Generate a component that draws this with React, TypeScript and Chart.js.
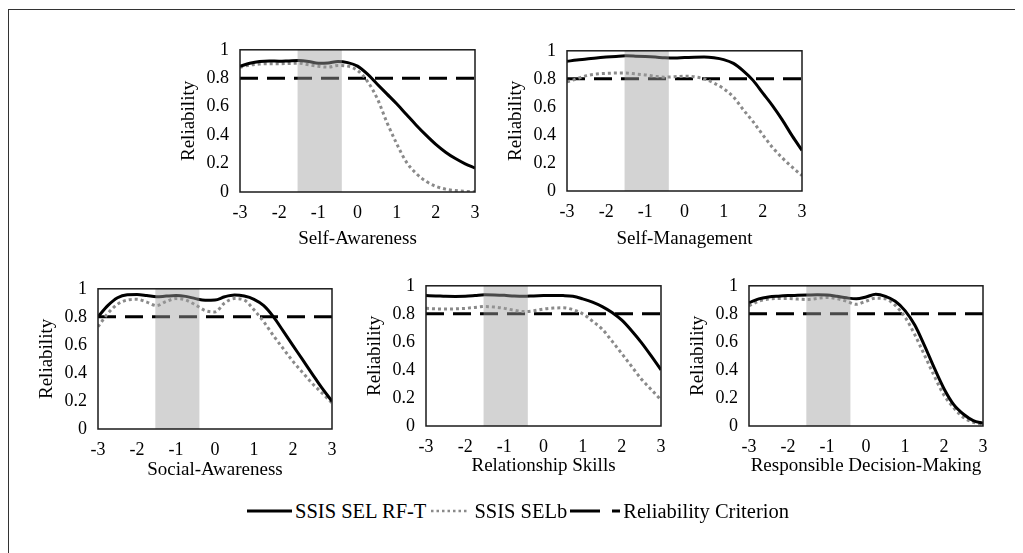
import React, { useEffect, useRef } from "react";
import { Chart, registerables } from "chart.js";

Chart.register(...registerables);

const FONT = "'Liberation Serif', 'Times New Roman', serif";
Chart.defaults.font.family = FONT;
Chart.defaults.color = "#000";

// ---------------- data ----------------
const THETA = [-3, -2.75, -2.5, -2.25, -2, -1.75, -1.5, -1.25, -1, -0.75, -0.5, -0.25, 0, 0.25, 0.5, 0.75, 1, 1.25, 1.5, 1.75, 2, 2.25, 2.5, 2.75, 3];
const X_TICK_MIN = -3;
const X_TICK_MAX = 3;
const CRITERION = 0.8;
const BAND = [-1.53, -0.4];

const SELF_AWARENESS_RFT = [0.884, 0.905, 0.918, 0.921, 0.92, 0.922, 0.924, 0.918, 0.906, 0.908, 0.918, 0.91, 0.885, 0.83, 0.76, 0.69, 0.62, 0.545, 0.47, 0.4, 0.335, 0.28, 0.235, 0.198, 0.168];
const SELF_AWARENESS_SELB = [0.877, 0.893, 0.9, 0.902, 0.902, 0.904, 0.906, 0.895, 0.884, 0.878, 0.89, 0.885, 0.855, 0.78, 0.66, 0.49, 0.34, 0.21, 0.13, 0.075, 0.04, 0.02, 0.01, 0.004, 0.002];

const SELF_MANAGEMENT_RFT = [0.925, 0.934, 0.941, 0.949, 0.955, 0.96, 0.964, 0.962, 0.959, 0.955, 0.95, 0.948, 0.952, 0.954, 0.955, 0.95, 0.937, 0.91, 0.857, 0.789, 0.698, 0.608, 0.506, 0.393, 0.29];
const SELF_MANAGEMENT_SELB = [0.778, 0.8, 0.823, 0.834, 0.839, 0.841, 0.841, 0.835, 0.828, 0.818, 0.812, 0.815, 0.819, 0.815, 0.8, 0.77, 0.73, 0.67, 0.58, 0.495, 0.4, 0.31, 0.235, 0.17, 0.11];

const SOCIAL_AWARENESS_RFT = [0.8, 0.88, 0.936, 0.957, 0.959, 0.952, 0.943, 0.948, 0.952, 0.946, 0.93, 0.918, 0.92, 0.943, 0.955, 0.948, 0.925, 0.88, 0.8, 0.698, 0.595, 0.493, 0.39, 0.289, 0.198];
const SOCIAL_AWARENESS_SELB = [0.73, 0.823, 0.89, 0.92, 0.925, 0.905, 0.88, 0.91, 0.93, 0.92, 0.885, 0.845, 0.835, 0.9, 0.93, 0.92, 0.85, 0.765, 0.665, 0.573, 0.482, 0.402, 0.323, 0.255, 0.186];

const RELATIONSHIP_RFT = [0.93, 0.928, 0.925, 0.924, 0.925, 0.93, 0.936, 0.935, 0.932, 0.927, 0.925, 0.928, 0.93, 0.931, 0.93, 0.925, 0.907, 0.884, 0.852, 0.81, 0.755, 0.68, 0.595, 0.5, 0.4];
const RELATIONSHIP_SELB = [0.839, 0.836, 0.834, 0.836, 0.839, 0.846, 0.852, 0.848, 0.839, 0.826, 0.816, 0.822, 0.834, 0.841, 0.843, 0.83, 0.8, 0.748, 0.69, 0.605, 0.516, 0.425, 0.334, 0.26, 0.186];

const DECISION_RFT = [0.88, 0.907, 0.92, 0.926, 0.93, 0.932, 0.934, 0.936, 0.934, 0.925, 0.914, 0.907, 0.92, 0.94, 0.925, 0.89, 0.823, 0.72, 0.573, 0.414, 0.266, 0.152, 0.084, 0.039, 0.02];
const DECISION_SELB = [0.857, 0.89, 0.905, 0.91, 0.91, 0.905, 0.902, 0.91, 0.916, 0.908, 0.89, 0.868, 0.89, 0.912, 0.907, 0.86, 0.777, 0.652, 0.505, 0.357, 0.22, 0.13, 0.061, 0.027, 0.011];

const Y_TITLE = "Reliability";
const SERIES_NAMES = ["SSIS SEL RF-T", "SSIS SELb", "Reliability Criterion"];

type PanelSpec = {
  title: string;
  rft: number[];
  selb: number[];
  left: number; // plot area left (container coords)
  top: number; // plot area top
  w: number;
  h: number;
  titleOff: number; // x-title center offset below plot bottom
};

const PANELS: PanelSpec[] = [
  { title: "Self-Awareness", rft: SELF_AWARENESS_RFT, selb: SELF_AWARENESS_SELB, left: 232, top: 35, w: 235, h: 149, titleOff: 47 },
  { title: "Self-Management", rft: SELF_MANAGEMENT_RFT, selb: SELF_MANAGEMENT_SELB, left: 559, top: 36, w: 235, h: 147, titleOff: 48 },
  { title: "Social-Awareness", rft: SOCIAL_AWARENESS_RFT, selb: SOCIAL_AWARENESS_SELB, left: 90, top: 274, w: 234, h: 147, titleOff: 41 },
  { title: "Relationship Skills", rft: RELATIONSHIP_RFT, selb: RELATIONSHIP_SELB, left: 418, top: 271, w: 235, h: 147, titleOff: 40 },
  { title: "Responsible Decision-Making", rft: DECISION_RFT, selb: DECISION_SELB, left: 741, top: 271, w: 234, h: 147, titleOff: 40 },
];

const PAD_L = 75;
const PAD_T = 15;
const PAD_R = 20;
const PAD_B = 60;
const TITLE_SIZE = 19;
const TICK_SIZE = 18;

const bandPlugin = {
  id: "band",
  afterDatasetsDraw(chart: any) {
    const { ctx, chartArea, scales } = chart;
    const x0 = scales.x.getPixelForValue(BAND[0]);
    const x1 = scales.x.getPixelForValue(BAND[1]);
    ctx.save();
    ctx.fillStyle = "rgba(160,160,160,0.46)";
    ctx.fillRect(x0, chartArea.top, x1 - x0, chartArea.bottom - chartArea.top);
    ctx.restore();
  },
};

const framePlugin = {
  id: "frame",
  afterDraw(chart: any) {
    const { ctx, chartArea } = chart;
    ctx.save();
    ctx.strokeStyle = "#1a1a1a";
    ctx.lineWidth = 1.5;
    ctx.strokeRect(chartArea.left, chartArea.top, chartArea.right - chartArea.left, chartArea.bottom - chartArea.top);
    ctx.restore();
  },
};

function Panel({ p }: { p: PanelSpec }) {
  const ref = useRef<HTMLCanvasElement>(null);
  const W = p.w + PAD_L + PAD_R;
  const H = p.h + PAD_T + PAD_B;
  useEffect(() => {
    const titleHalf = (TITLE_SIZE * 1.2) / 2;
    const chart = new Chart(ref.current as HTMLCanvasElement, {
      type: "line",
      data: {
        datasets: [
          {
            label: SERIES_NAMES[0],
            data: THETA.map((x, i) => ({ x, y: p.rft[i] })),
            borderColor: "#000",
            borderWidth: 3,
            pointRadius: 0,
            cubicInterpolationMode: "monotone",
          },
          {
            label: SERIES_NAMES[1],
            data: THETA.map((x, i) => ({ x, y: p.selb[i] })),
            borderColor: "#8a8a8a",
            borderWidth: 3,
            borderDash: [3, 3],
            pointRadius: 0,
            cubicInterpolationMode: "monotone",
          },
          {
            label: SERIES_NAMES[2],
            data: [
              { x: X_TICK_MIN, y: CRITERION },
              { x: X_TICK_MAX, y: CRITERION },
            ],
            borderColor: "#000",
            borderWidth: 3,
            borderDash: [18, 9],
            pointRadius: 0,
          },
        ],
      },
      options: {
        animation: false,
        responsive: false,
        maintainAspectRatio: false,
        layout: { padding: { left: 0, top: PAD_T, right: PAD_R, bottom: 0 } },
        plugins: { legend: { display: false }, tooltip: { enabled: false } },
        scales: {
          x: {
            type: "linear",
            min: X_TICK_MIN,
            max: X_TICK_MAX,
            grid: { display: false, drawTicks: false },
            border: { display: false },
            ticks: { stepSize: 1, padding: 10, font: { size: TICK_SIZE }, color: "#000", maxRotation: 0 },
            title: {
              display: true,
              text: p.title,
              font: { size: TITLE_SIZE },
              color: "#000",
              padding: { top: 0, bottom: PAD_B - p.titleOff - titleHalf },
            },
            afterFit(scale: any) {
              scale.height = PAD_B;
            },
          },
          y: {
            min: 0,
            max: 1,
            grid: { display: false, drawTicks: false },
            border: { display: false },
            ticks: {
              stepSize: 0.2,
              padding: 11,
              font: { size: TICK_SIZE },
              color: "#000",
              callback: (v: any) => String(Math.round(Number(v) * 10) / 10),
            },
            title: {
              display: true,
              text: Y_TITLE,
              font: { size: TITLE_SIZE },
              color: "#000",
              padding: { top: PAD_L - 51 - titleHalf, bottom: 0 },
            },
            afterFit(scale: any) {
              scale.width = PAD_L;
            },
          },
        },
      },
      plugins: [bandPlugin, framePlugin],
    } as any);
    return () => chart.destroy();
  }, []);
  return (
    <canvas
      ref={ref}
      width={W}
      height={H}
      style={{ position: "absolute", left: p.left - PAD_L, top: p.top - PAD_T, width: W, height: H }}
    />
  );
}

function Sample({ w, color, width, dash }: { w: number; color: string; width: number; dash?: string }) {
  return (
    <svg width={w} height={8} style={{ display: "block" }}>
      <line x1={0} y1={4} x2={w} y2={4} stroke={color} strokeWidth={width} strokeDasharray={dash} />
    </svg>
  );
}

export default function App() {
  return (
    <div style={{ position: "relative", width: 1015, height: 545, fontFamily: FONT }}>
      <div
        style={{
          position: "absolute",
          left: 0,
          top: 1,
          width: 1015,
          height: 544,
          borderLeft: "1px solid #333",
          borderTop: "1px solid #333",
          boxSizing: "border-box",
        }}
      />
      {PANELS.map((p) => (
        <Panel key={p.title} p={p} />
      ))}
      <div
        style={{
          position: "absolute",
          left: 239,
          top: 490,
          height: 26,
          display: "flex",
          alignItems: "center",
          fontSize: 20.5,
          color: "#000",
          whiteSpace: "nowrap",
        }}
      >
        <Sample w={45} color="#000" width={3} />
        <span style={{ marginLeft: 3 }}>{SERIES_NAMES[0]}</span>
        <span style={{ marginLeft: 5 }}>
          <Sample w={38} color="#8a8a8a" width={2.5} dash="2.5 3" />
        </span>
        <span style={{ marginLeft: 5 }}>{SERIES_NAMES[1]}</span>
        <span style={{ marginLeft: 3 }}>
          <Sample w={50} color="#000" width={3} dash="30 12" />
        </span>
        <span style={{ marginLeft: 3 }}>{SERIES_NAMES[2]}</span>
      </div>
    </div>
  );
}
